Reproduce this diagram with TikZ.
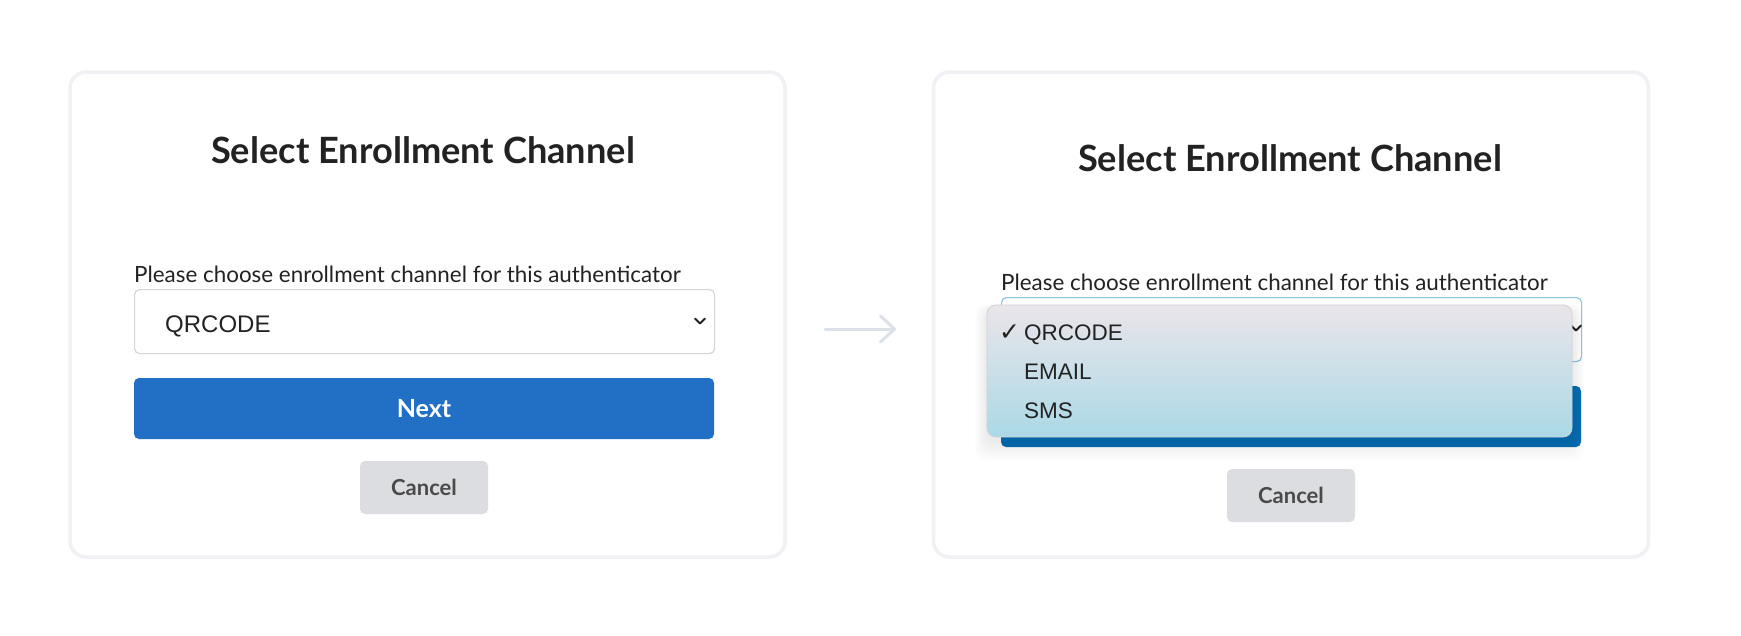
\documentclass[tikz,border=0pt]{standalone}
\usepackage{fontspec}
\setmainfont{Lato}
\newfontfamily\uifont{Liberation Sans}
\newfontfamily\symfont{DejaVu Sans}
\usepackage{xcolor}
\usetikzlibrary{arrows.meta,positioning}

\definecolor{ink}{HTML}{222222}
\definecolor{panelline}{HTML}{F0F1F5}
\definecolor{boxline}{HTML}{D6D6D9}
\definecolor{focusline}{HTML}{8EC5DC}
\definecolor{nextblue}{HTML}{2170C5}
\definecolor{nextdark}{HTML}{0B6EB8}
\definecolor{cancelgray}{HTML}{DCDDE0}
\definecolor{canceltext}{HTML}{4A4A4A}
\definecolor{poptop}{HTML}{EAE5EA}
\definecolor{popmid}{HTML}{D5E3E8}
\definecolor{popbot}{HTML}{ABD9E6}
\definecolor{arrowgray}{HTML}{DDE1E8}

\begin{document}
\begin{tikzpicture}[
  x=1pt, y=-1pt,
  panel/.style={draw=panelline, line width=3.5pt, rounded corners=16pt, fill=white,
    minimum width=715pt, minimum height=485pt, inner sep=0pt},
  heading/.style={font=\bfseries\fontsize{36.2}{42}\selectfont, text=ink, anchor=base, inner sep=0pt},
  prompt/.style={font=\fontsize{22.4}{27}\selectfont, text=ink, anchor=base west, inner sep=0pt},
  selbox/.style={draw=boxline, line width=1.2pt, rounded corners=5pt, fill=white,
    minimum width=580pt, minimum height=64pt, inner sep=0pt, anchor=north west},
  choice/.style={font=\uifont\fontsize{24}{28}\selectfont, text=ink, anchor=base west, inner sep=0pt},
  chev/.style={draw=ink, line width=1.8pt, line cap=round, line join=round},
  nextbtn/.style={fill=nextblue, rounded corners=5pt, minimum width=580pt, minimum height=61pt,
    inner sep=0pt, text=white, font=\bfseries\fontsize{25}{30}\selectfont},
  cancelbtn/.style={fill=cancelgray, rounded corners=5pt, minimum width=128pt, minimum height=53pt,
    inner sep=0pt, text=canceltext, font=\bfseries\fontsize{22}{26}\selectfont},
  popup/.style={draw=black!18, line width=0.8pt, rounded corners=9pt, top color=poptop,
    middle color=popmid, bottom color=popbot, minimum width=585pt, minimum height=132pt, inner sep=0pt},
  item/.style={font=\uifont\fontsize{22.5}{26}\selectfont, text=ink, anchor=base west, inner sep=0pt},
  tick/.style={font=\symfont\bfseries\fontsize{25}{30}\selectfont, text=ink, anchor=base west, inner sep=0pt},
  arr/.style={draw=arrowgray, line width=3pt, line cap=round,
    -{Straight Barb[length=14pt, width=26pt, line cap=round, line join=round]}}
]
  \useasboundingbox[fill=white] (0,0) rectangle (1741,635);

  \node[panel] (form) at (427.5,314.5) {};
  \node[heading] (title) at (423,163) {Select Enrollment Channel};
  \node[prompt] (ask) at (134,282) {Please choose enrollment channel for this authenticator};
  \node[selbox] (sel) at (134,289) {};
  \node[choice] (selval) at (165,332) {QRCODE};
  \draw[chev] (695,318.5) -- (700,323.5) -- (705,318.5);
  \node[nextbtn] (next) at (424,408.5) {Next};
  \node[cancelbtn] (cancel) at (424,487.5) {Cancel};

  \coordinate (goL) at (825,329);
  \coordinate (goR) at (896,329);
  \draw[arr] (goL) -- (goR);

  \node[panel] (formopen) at (1291,314.5) {};
  \node[heading] (title2) at (1290,171) {Select Enrollment Channel};
  \node[prompt] (ask2) at (1001,290) {Please choose enrollment channel for this authenticator};
  \node[selbox, draw=focusline] (sel2) at (1001,297) {};
  \draw[chev] (1571,325.5) -- (1576,330.5) -- (1581,325.5);
  \node[nextbtn, fill=nextdark] (next2) at (1291,416.5) {};
  \node[cancelbtn] (cancel2) at (1291,495.5) {Cancel};

  \foreach \s in {2,4,...,20}
    \fill[black, opacity=0.008, rounded corners=12pt] (987-0.6*\s,310-0.3*\s) rectangle (1572+0.6*\s,441+\s);
  \node[popup] (menu) at (1279.5,371) {};
  \node[tick] (mark) at (999,340) {✓};
  \node[item] (opt1) at (1024,340) {QRCODE};
  \node[item] (opt2) at (1024,379) {EMAIL};
  \node[item] (opt3) at (1024,418) {SMS};
\end{tikzpicture}
\end{document}
